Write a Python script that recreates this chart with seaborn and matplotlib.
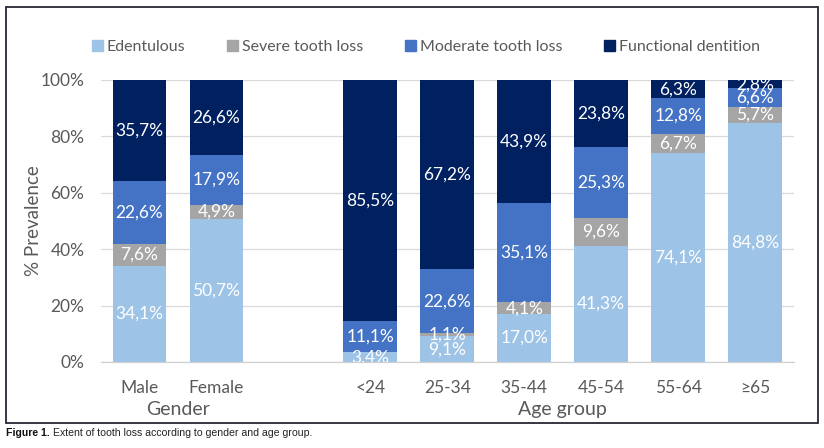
import matplotlib
matplotlib.use('Agg')
import matplotlib.pyplot as plt
import matplotlib.patches as mpatches
import numpy as np
import seaborn as sns
import pandas as pd

# groups on the x axis (blank slot separates gender from age groups)
groups = ['Male', 'Female', ' ', '<24', '25-34', '35-44', '45-54', '55-64', '≥65']
gender_groups = ['Male', 'Female']
age_groups = ['<24', '25-34', '35-44', '45-54', '55-64', '≥65']
series = ['Edentulous', 'Severe tooth loss', 'Moderate tooth loss', 'Functional dentition']

edentulous = [34.1, 50.7, 3.4, 9.1, 17.0, 41.3, 74.1, 84.8]
severe = [7.6, 4.9, 0.0, 1.1, 4.1, 9.6, 6.7, 5.7]
moderate = [22.6, 17.9, 11.1, 22.6, 35.1, 25.3, 12.8, 6.6]
functional = [35.7, 26.6, 85.5, 67.2, 43.9, 23.8, 6.3, 2.8]

colors = ['#9DC3E6', '#A5A5A5', '#4472C4', '#002060']

sns.set_theme(style='white')
plt.rcParams['font.family'] = ['Lato', 'DejaVu Sans']

cats = gender_groups + age_groups
vals = np.array([edentulous, severe, moderate, functional])
cum = np.cumsum(vals, axis=0)

fig = plt.figure(figsize=(8.24, 4.48), dpi=100)
ax = fig.add_axes([0.1226, 0.192, 0.8405, 0.6295])

# draw cumulative totals from top down so each layer shows as a stacked segment
for i in range(3, -1, -1):
    df = pd.DataFrame({'group': cats, 'value': cum[i]})
    sns.barplot(data=df, x='group', y='value', order=groups, color=colors[i],
                saturation=1, width=0.7, linewidth=0, edgecolor='none', ax=ax, zorder=2)

# segment labels
for j, g in enumerate(cats):
    x = groups.index(g)
    bottom = 0
    for i in range(4):
        v = vals[i][j]
        if v > 0:
            ax.text(x, bottom + v / 2, f'{v:.1f}%'.replace('.', ','), ha='center', va='center',
                    color='white', fontsize=12.5, zorder=3, clip_on=True)
        bottom += v

ax.set_ylim(0, 100)
ax.set_xlim(-0.5, len(groups) - 0.5)
ax.set_yticks([0, 20, 40, 60, 80, 100])
ax.set_yticklabels([f'{t}%' for t in [0, 20, 40, 60, 80, 100]])
ax.yaxis.grid(True, color='#D9D9D9', linewidth=0.9, zorder=0)
ax.set_axisbelow(True)
for s in ['top', 'right', 'left']:
    ax.spines[s].set_visible(False)
ax.spines['bottom'].set_color('#D0D0D0')
ax.spines['bottom'].set_linewidth(0.9)
ax.tick_params(axis='both', length=0, labelsize=12.5, labelcolor='#595959')
ax.tick_params(axis='x', pad=13)
ax.tick_params(axis='y', pad=12)
ax.set_xlabel('')
ax.set_ylabel('% Prevalence', fontsize=13.5, color='#595959')
ax.yaxis.set_label_coords(-0.085, 0.5)

# group titles
ax.text(0.5, -0.17, 'Gender', transform=ax.get_xaxis_transform(), ha='center', va='center',
        fontsize=14, color='#595959')
ax.text(5.5, -0.17, 'Age group', transform=ax.get_xaxis_transform(), ha='center', va='center',
        fontsize=14, color='#595959')

handles = [mpatches.Patch(color=c, label=s) for c, s in zip(colors, series)]
leg = fig.legend(handles=handles, loc='center', bbox_to_anchor=(0.517, 1 - 47 / 448), ncol=4,
                 frameon=False, handlelength=0.7, handleheight=0.7, handletextpad=0.25,
                 columnspacing=2.6, fontsize=11.5)
for t in leg.get_texts():
    t.set_color('#595959')

# chart frame
fig.patches.append(mpatches.Rectangle((6 / 824, 1 - 423 / 448), 812 / 824, 416 / 448,
                                      transform=fig.transFigure, fill=False,
                                      edgecolor='#262635', linewidth=1.3))

# caption
cap_font = ['Liberation Sans Narrow', 'Liberation Sans', 'DejaVu Sans']
t1 = fig.text(6 / 824, 1 - 433 / 448, 'Figure 1.', fontsize=7.6, fontweight='bold',
              family=cap_font, va='center', ha='left', color='#111111')
fig.canvas.draw()
bb = t1.get_window_extent()
fig.text((bb.x1 + 3) / 824, 1 - 433 / 448, 'Extent of tooth loss according to gender and age group.',
         fontsize=7.6, family=cap_font, va='center', ha='left', color='#222222')

plt.savefig('out.png', dpi=100)
